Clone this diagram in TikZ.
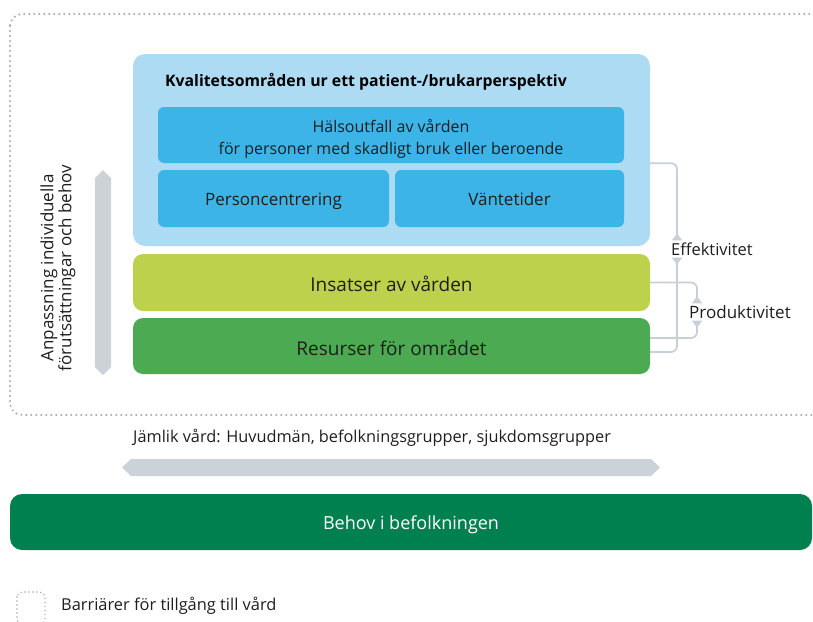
\documentclass[tikz,border=0pt]{standalone}
\usepackage{fontspec}
\setmainfont{Open Sans}
\usetikzlibrary{arrows.meta}
\definecolor{lblue}{HTML}{ADDBF3}
\definecolor{mblue}{HTML}{3CB4E7}
\definecolor{lime}{HTML}{BDD14C}
\definecolor{mgreen}{HTML}{4BAA52}
\definecolor{dgreen}{HTML}{00804F}
\definecolor{garrow}{HTML}{CBD3D9}
\definecolor{gconn}{HTML}{C8D0D6}
\definecolor{txt}{HTML}{1E1E1E}
\definecolor{dots}{HTML}{A8A8A8}
\newcommand\lowr[2]{\raisebox{-#1}[\height][\depth]{#2}}
\tikzset{
  box/.style={draw=none, rounded corners=#1, inner sep=0pt, align=center, text=txt},
  box/.default=10pt,
  conn/.style={draw=gconn, line width=1.8pt, rounded corners=6pt},
  mytip/.tip={Triangle[reversed, width=10pt, length=7pt]},
  lbl/.style={text=txt, inner sep=1pt}
}
\begin{document}
\begin{tikzpicture}[x=1pt,y=-1pt]
\useasboundingbox (0,0) rectangle (813,621);
\clip (0,0) rectangle (813,621);
% dotted frame
\draw[dots, line width=2.2pt, dash pattern=on 0pt off 5pt, line cap=round, rounded corners=12pt] (10,14) rectangle (840,415);
% quality box
\node[box=12pt, fill=lblue, minimum width=517pt, minimum height=192pt] (qual) at (391.5,150) {};
\node[anchor=west, text=black, font=\bfseries\fontsize{15.8}{18}\selectfont, inner sep=0pt] (qtitle) at (165,82) {Kvalitetsområden ur ett patient-/brukarperspektiv};
\node[box=6pt, fill=mblue, minimum width=466pt, minimum height=56pt] (halso) at (391,135) {};
\node[lbl, align=center, font=\fontsize{16}{22}\selectfont] (halsotext) at ([yshift=-4pt]halso.center) {Hälsoutfall av vården\\för personer med skadligt bruk eller beroende};
\node[box=6pt, fill=mblue, minimum width=231pt, minimum height=57pt, font=\fontsize{17}{18}\selectfont] (person) at (273.5,198.5) {\lowr{3pt}{Personcentrering}};
\node[box=6pt, fill=mblue, minimum width=229pt, minimum height=57pt, font=\fontsize{17}{18}\selectfont] (vante) at (509.5,198.5) {\lowr{1pt}{Väntetider}};
% insatser and resurser
\node[box=10pt, fill=lime, minimum width=517pt, minimum height=57pt, font=\fontsize{19}{20}\selectfont] (insats) at (391.5,282.5) {\lowr{1pt}{Insatser av vården}};
\node[box=10pt, fill=mgreen, minimum width=517pt, minimum height=56pt, font=\fontsize{19}{20}\selectfont] (resurs) at (391.5,346) {\lowr{2pt}{Resurser för området}};
% labels
\node[lbl, font=\fontsize{16.5}{18}\selectfont] (eff) at (712,249) {Effektivitet};
\node[lbl, font=\fontsize{17}{18}\selectfont] (prod) at (740,312) {Produktivitet};
\coordinate (ex) at (677,0);
\coordinate (px) at (697,0);
% connectors
\draw[conn, -{mytip}] (qual.east |- halso.south) -| ([yshift=1pt]eff.north -| ex);
\draw[conn, {mytip}-] ([yshift=-1pt]eff.south -| ex) |- ([yshift=-6pt]resurs.east);
\draw[conn, -{mytip}] (insats.east) -| ([yshift=1pt]prod.north -| px);
\draw[conn, {mytip}-] ([yshift=-1pt]prod.south -| px) |- ([yshift=8pt]resurs.east);
% vertical double arrow
\fill[garrow] (103,170) -- (111,178) -- (111,367) -- (103,375) -- (95,367) -- (95,178) -- cycle;
\node[lbl, rotate=90, align=center, font=\fontsize{17}{17}\selectfont] (anp) at (58,268) {Anpassning individuella\\förutsättningar och behov};
% horizontal
\node[lbl, anchor=west, font=\fontsize{16.3}{18}\selectfont] (jam) at (132,438) {Jämlik vård: Huvudmän, befolkningsgrupper, sjukdomsgrupper};
\fill[garrow] (122,467.5) -- (131,459) -- (651,459) -- (660,467.5) -- (651,476) -- (131,476) -- cycle;
% behov
\node[box=12pt, fill=dgreen, text=white, minimum width=802pt, minimum height=56pt, font=\fontsize{18}{20}\selectfont] (behov) at (411,522) {\lowr{3pt}{Behov i befolkningen}};
% legend
\draw[dots, line width=1.6pt, dash pattern=on 0pt off 4pt, line cap=round, rounded corners=5pt] (17,592) rectangle (45,624);
\node[lbl, anchor=west, font=\fontsize{16.4}{18}\selectfont] (leg) at (60,606) {Barriärer för tillgång till vård};
\end{tikzpicture}
\end{document}
